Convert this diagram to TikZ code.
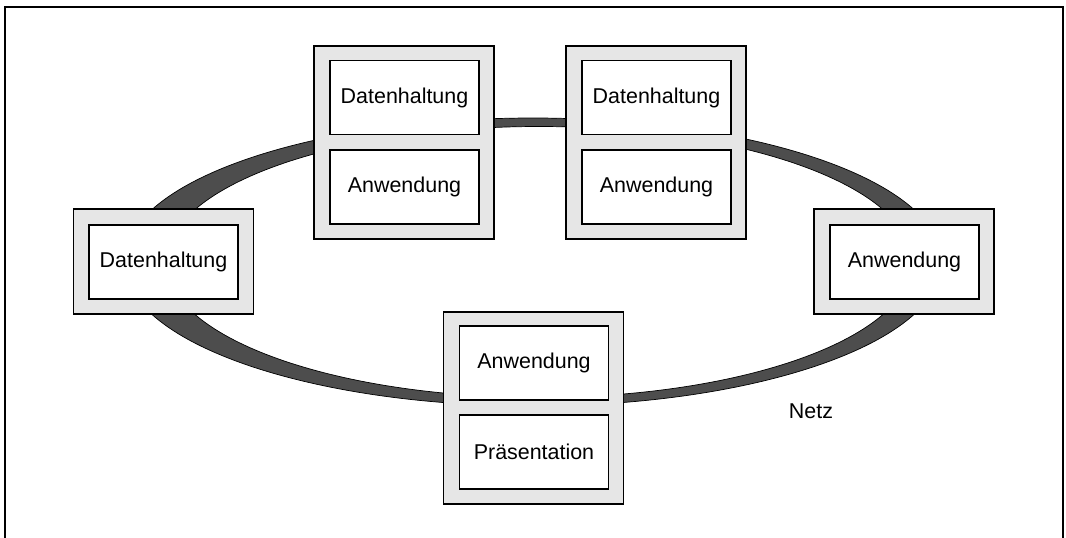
\documentclass[tikz,border=0pt]{standalone}
\usepackage{fontspec}
\setmainfont{Liberation Sans}
\usetikzlibrary{positioning}
\definecolor{boxgray}{HTML}{E6E6E6}
\definecolor{netgray}{HTML}{4D4D4D}
\tikzset{
every picture/.style={
line width=0.6pt
},
host/.style={draw, fill=boxgray, inner sep=0pt, minimum width=3.6cm},
layer/.style={draw, fill=white, inner sep=0pt, minimum width=2.98cm, minimum height=1.48cm, font=\fontsize{12.2}{14}\selectfont}
}

\begin{document}
\begin{tikzpicture}[x=0.02cm, y=-0.02cm]
\useasboundingbox (0,0) rectangle (1066,538);

% frame, open at the bottom
\draw[line width=1.1pt] (5,538) -- (5,7) -- (1063,7) -- (1063,538);

% the network ring
\path[fill=netgray, draw=black, line width=0.4pt, even odd rule]
  (533,262) ellipse [x radius=409, y radius=144]
  (539,262) ellipse [x radius=373, y radius=135.5];

% hosts
\node[host, minimum height=2.1cm] (west) at (163.5,261.5) {};
\node[host, minimum height=3.86cm] (northwest) at (404,142.5) {};
\node[host, minimum height=3.86cm] (northeast) at (656,142.5) {};
\node[host, minimum height=2.1cm] (east) at (904,261.5) {};
\node[host, minimum height=3.84cm] (south) at (533.5,408) {};

% layers
\node[layer] (westdata) at (163.5,262) {Datenhaltung};
\node[layer] (nwdata) at (404.5,97.5) {Datenhaltung};
\node[layer] (nwapp) at (404.5,187) {Anwendung};
\node[layer] (nedata) at (656.5,97.5) {Datenhaltung};
\node[layer] (neapp) at (656.5,187) {Anwendung};
\node[layer] (eastapp) at (904.5,262) {Anwendung};
\node[layer] (southapp) at (534,363) {Anwendung};
\node[layer] (southpres) at (534,452) {Präsentation};

\node[font=\fontsize{12.2}{14}\selectfont] (netz) at (811,411) {Netz};
\end{tikzpicture}
\end{document}
